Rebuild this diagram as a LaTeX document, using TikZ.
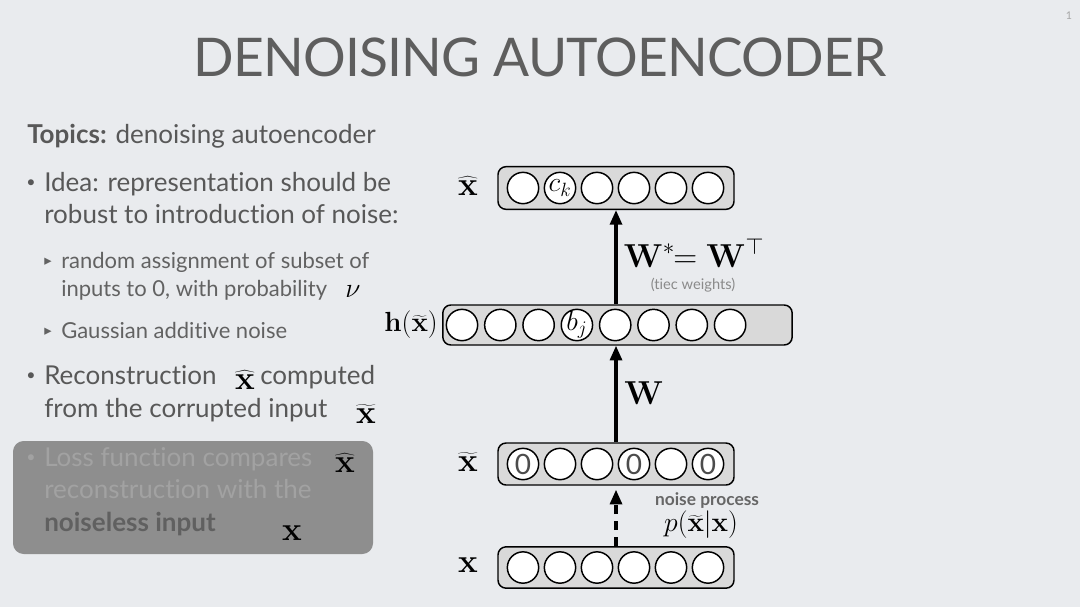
\documentclass[tikz,border=0pt]{standalone}
\usepackage[no-math]{fontspec}
\setmainfont{Lato}[Ligatures={NoCommon}]
\newfontfamily\dejavu{DejaVu Sans}
\usetikzlibrary{arrows.meta}
\definecolor{bgc}{HTML}{E9EBEE}
\definecolor{titlec}{HTML}{5E5E5E}
\definecolor{textc}{HTML}{585858}
\definecolor{subc}{HTML}{626262}
\definecolor{layerc}{HTML}{D9D9D9}
\definecolor{boxc}{HTML}{8E8E8E}
\definecolor{boxtext}{HTML}{A2A2A2}
\definecolor{boxbold}{HTML}{606060}
\definecolor{lightc}{HTML}{8A8A8A}
\begin{document}
\begin{tikzpicture}[x=0.75pt,y=-0.75pt,
  layer/.style={draw=black,line width=1.1pt,fill=layerc,rounded corners=6pt,inner sep=0pt},
  unit/.style={circle,draw=black,line width=1.1pt,fill=white,minimum size=23.5pt,inner sep=0pt},
  body/.style={anchor=base west,inner sep=0pt,text=textc,font=\fontsize{19.5}{24}\selectfont},
  sub/.style={anchor=base west,inner sep=0pt,text=subc,font=\fontsize{16.5}{20}\selectfont},
  boxt/.style={anchor=base west,inner sep=0pt,text=boxtext,font=\fontsize{19.5}{24}\selectfont},
  dot/.style={inner sep=0pt,font=\fontsize{12}{12}\selectfont},
  tri/.style={inner sep=0pt,text=subc,font=\dejavu\fontsize{11}{12}\selectfont},
  mlab/.style={inner sep=0pt,font=\fontsize{23}{26}\selectfont},
  flow/.style={line width=2.4pt,-{Triangle[length=11pt,width=9pt]}},
  zero/.style={font=\fontsize{21}{24}\selectfont\color{black!70}},
  inlab/.style={inner sep=0pt,font=\fontsize{21}{24}\selectfont}
]
\fill[bgc] (0,0) rectangle (1080,607);
\useasboundingbox (0,0) rectangle (1080,607);

% title and slide number
\node[inner sep=0pt,text=titlec,font=\fontsize{40}{44}\selectfont\addfontfeature{LetterSpace=-1.5}] (title) at (540,57) {DENOISING AUTOENCODER};
\node[inner sep=0pt,text=black!35,font=\fontsize{8}{9}\selectfont] (pnum) at (1069,16) {1};

% left text
\node[body] (t1) at (27,143) {\textbf{Topics:} denoising autoencoder};
\node[dot,text=textc] (d1) at (31,184) {\textbullet};
\node[body] (b1) at (44,191) {Idea: representation should be};
\node[body] (b1b) at (44,223) {robust to introduction of noise:};
\node[tri] (tr1) at (48,262) {▸};
\node[sub] (s1) at (61,268) {random assignment of subset of};
\node[sub] (s1b) at (61,296) {inputs to 0, with probability};
\node[mlab,font=\fontsize{20}{24}\selectfont] (nu) at (353,292) {$\nu$};
\node[tri] (tr2) at (48,332) {▸};
\node[sub] (s2) at (61,338) {Gaussian additive noise};
\node[dot,text=textc] (d2) at (31,377) {\textbullet};
\node[body] (b2) at (44,384) {Reconstruction};
\node[mlab] (b2x) at (245,380) {$\widehat{\mathbf{x}}$};
\node[body] (b2c) at (260,384) {computed};
\node[body] (b2b) at (44,417) {from the corrupted input};
\node[mlab] (b2bx) at (366,414) {$\widetilde{\mathbf{x}}$};

% gray box
\fill[boxc,rounded corners=8pt] (13,441) rectangle (373,554);
\node[dot,text=boxtext] (d3) at (31,459) {\textbullet};
\node[boxt] (l1) at (44,466) {Loss function compares};
\node[mlab] (l1x) at (345,463) {$\widehat{\mathbf{x}}$};
\node[boxt] (l2) at (44,498) {reconstruction with the};
\node[boxt,text=boxbold] (l3) at (44,531) {\textbf{noiseless input}};
\node[mlab] (l3x) at (292,533) {$\mathbf{x}$};

% layers
\node[layer,minimum width=177pt,minimum height=32pt] (xhat) at (616,188) {};
\node[layer,minimum width=262pt,minimum height=30pt] (hid) at (617.5,325) {};
\node[layer,minimum width=177pt,minimum height=31.5pt] (xt) at (616,464) {};
\node[layer,minimum width=177pt,minimum height=31pt] (xin) at (616,567.5) {};

\foreach \i in {0,...,5} {
  \pgfmathsetmacro\cx{523+37*\i}
  \node[unit] (o\i) at (\cx,188) {};
  \node[unit] (c\i) at (\cx,464) {};
  \node[unit] (in\i) at (\cx,567.5) {};
}
\foreach \i in {0,...,7} {
  \pgfmathsetmacro\cx{462+38.3*\i}
  \node[unit] (h\i) at (\cx,325) {};
}
\node[inlab] at (o1) {$c_k$};
\node[inlab] at (h3) {$b_j$};
\node[zero] at (c0) {0};
\node[zero] at (c3) {0};
\node[zero] at (c5) {0};

% layer labels
\node[mlab] (lxhat) at (468,186) {$\widehat{\mathbf{x}}$};
\node[mlab,anchor=east,font=\fontsize{19.5}{24}\selectfont] (lh) at (438,325) {$\mathbf{h}(\widetilde{\mathbf{x}})$};
\node[mlab] (lxt) at (468,462) {$\widetilde{\mathbf{x}}$};
\node[mlab] (lx) at (468,565) {$\mathbf{x}$};

% connectors
\draw[flow] (xt.north) -- (xt.north |- hid.south);
\draw[flow] (hid.north -| xhat.south) -- (xhat.south);
\draw[line width=2.4pt,dash pattern=on 7pt off 5pt,-{Triangle[length=11pt,width=9pt,sep=0pt]},shorten >=3pt] (xin.north) -- (xt.south);

% connector labels
\node[mlab,font=\fontsize{25}{26}\selectfont] (wl) at (644,393) {$\mathbf{W}$};
\node[mlab,font=\fontsize{23}{26}\selectfont] (wsl) at (694,253) {$\mathbf{W}^{*}\!\!=\mathbf{W}^{\top}$};
\node[inner sep=0pt,text=lightc,font=\fontsize{11}{12}\selectfont] (tied) at (693,285) {(tiec weights)};
\node[inner sep=0pt,text=black!60,font=\fontsize{13}{14}\selectfont\bfseries] (np) at (707,501) {noise process};
\node[mlab,font=\fontsize{22}{24}\selectfont] (pl) at (701,525) {$p(\widetilde{\mathbf{x}}|\mathbf{x})$};
\end{tikzpicture}
\end{document}
